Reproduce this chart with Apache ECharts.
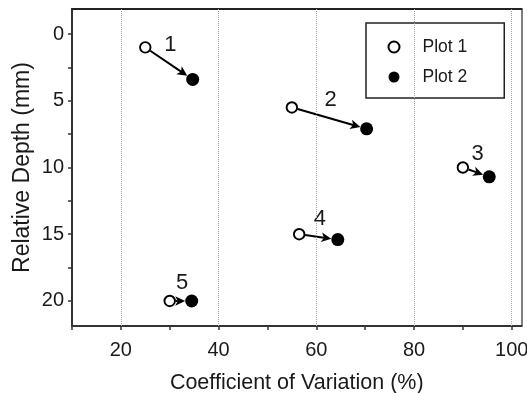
<!DOCTYPE html>
<html>
<head>
<meta charset="utf-8">
<script src="https://cdn.jsdelivr.net/npm/echarts@6/dist/echarts.min.js"></script>
<style>
  html, body { margin: 0; padding: 0; background: #fff; }
  #chart { width: 527px; height: 393px; }
</style>
</head>
<body>
<div id="chart"></div>
<script>
// Site numbers written next to each pair of measurements
const siteLabels = ['1', '2', '3', '4', '5'];

// Plot 1 (open circles): coefficient of variation (%) and relative depth (mm)
const plot1CV = [25, 55, 90, 56.5, 30];
const plot1Depth = [1, 5.5, 10, 15, 20];

// Plot 2 (filled circles)
const plot2CV = [34.7, 70.3, 95.4, 64.4, 34.5];
const plot2Depth = [3.4, 7.1, 10.7, 15.4, 20];

// Axis ticks and labels
const xLabelValues = [20, 40, 60, 80, 100];
const xTickValues = [10, 20, 30, 40, 50, 60, 70, 80, 90, 100];
const yLabelValues = [0, 5, 10, 15, 20];
const yTickValues = [0, 2.5, 5, 7.5, 10, 12.5, 15, 17.5, 20];

const FONT = '"Liberation Sans", Arial, Helvetica, sans-serif';
const INK = '#1a1a1a';

const plot1Data = plot1CV.map((v, i) => [v, plot1Depth[i]]);
const plot2Data = plot2CV.map((v, i) => [v, plot2Depth[i]]);
const arrowData = plot1CV.map((v, i) => [v, plot1Depth[i], plot2CV[i], plot2Depth[i]]);

const OPEN_R = 6;
const FILLED_R = 6.5;

// Arrow from each Plot 1 point to its Plot 2 point, with the site number above it
function renderArrow(params, api) {
  const a = api.coord([api.value(0), api.value(1)]);
  const b = api.coord([api.value(2), api.value(3)]);
  const dx = b[0] - a[0], dy = b[1] - a[1];
  const len = Math.hypot(dx, dy) || 1;
  const ux = dx / len, uy = dy / len;
  const px = -uy, py = ux;
  const start = [a[0] + ux * OPEN_R, a[1] + uy * OPEN_R];
  const tip = [b[0] - ux * FILLED_R, b[1] - uy * FILLED_R];
  const headLen = 10, headHalf = 4.8, notch = 2.5;
  const base = [tip[0] - ux * headLen, tip[1] - uy * headLen];
  const inner = [base[0] + ux * notch, base[1] + uy * notch];
  return {
    type: 'group',
    children: [
      {
        type: 'line',
        shape: { x1: start[0], y1: start[1], x2: inner[0], y2: inner[1] },
        style: { stroke: '#000', lineWidth: 2 }
      },
      {
        type: 'polygon',
        shape: {
          points: [
            tip,
            [base[0] + px * headHalf, base[1] + py * headHalf],
            inner,
            [base[0] - px * headHalf, base[1] - py * headHalf]
          ]
        },
        style: { fill: '#000' }
      },
      {
        type: 'text',
        x: (a[0] + b[0]) / 2 + 1.5,
        y: (a[1] + b[1]) / 2 - 18,
        style: {
          text: siteLabels[params.dataIndex],
          fontSize: 22,
          fontFamily: FONT,
          fill: INK,
          align: 'center',
          verticalAlign: 'middle'
        }
      }
    ]
  };
}

const chart = echarts.init(document.getElementById('chart'), null, { renderer: 'canvas' });

chart.setOption({
  animation: false,
  backgroundColor: '#fff',
  grid: { left: 72, right: 5.5, top: 9, bottom: 67, containLabel: false, outerBoundsMode: 'none' },
  legend: {
    data: ['Plot 1', 'Plot 2'],
    orient: 'vertical',
    left: 366,
    top: 23,
    icon: 'circle',
    itemWidth: 11,
    itemHeight: 11,
    itemGap: 12,
    padding: [15, 37, 12, 21.5],
    borderColor: '#222',
    borderWidth: 1.5,
    backgroundColor: '#fff',
    textStyle: {
      fontFamily: FONT,
      fontSize: 17.5,
      color: INK,
      lineHeight: 18,
      padding: [0, 0, 0, 18]
    }
  },
  xAxis: [
    {
      type: 'value',
      min: 10,
      max: 102,
      name: 'Coefficient of Variation (%)',
      nameLocation: 'middle',
      nameGap: 46,
      nameMoveOverlap: false,
      nameTextStyle: { fontFamily: FONT, fontSize: 21.5, color: INK },
      axisLine: { show: true, onZero: false, lineStyle: { color: '#333', width: 2 } },
      axisTick: {
        show: true,
        length: 4,
        customValues: xTickValues,
        lineStyle: { color: '#333', width: 1.5 }
      },
      axisLabel: {
        customValues: xLabelValues,
        margin: 14,
        fontFamily: FONT,
        fontSize: 20,
        color: INK
      },
      splitLine: { show: false }
    },
    {
      type: 'value',
      position: 'top',
      min: 10,
      max: 102,
      axisLine: { show: true, onZero: false, lineStyle: { color: '#222', width: 2 } },
      axisTick: { show: false },
      axisLabel: { show: false },
      splitLine: { show: false }
    }
  ],
  yAxis: [
    {
      type: 'value',
      inverse: true,
      min: -1.875,
      max: 21.875,
      name: 'Relative Depth (mm)',
      nameLocation: 'middle',
      nameGap: 38,
      nameMoveOverlap: false,
      nameRotate: 90,
      nameTextStyle: { fontFamily: FONT, fontSize: 23, color: INK },
      axisLine: { show: true, onZero: false, lineStyle: { color: '#333', width: 2 } },
      axisTick: {
        show: true,
        length: 4,
        customValues: yTickValues,
        lineStyle: { color: '#333', width: 1.5 }
      },
      axisLabel: {
        customValues: yLabelValues,
        margin: 8,
        fontFamily: FONT,
        fontSize: 20,
        color: INK
      },
      splitLine: { show: false }
    },
    {
      type: 'value',
      position: 'right',
      inverse: true,
      min: -1.875,
      max: 21.875,
      axisLine: { show: true, onZero: false, lineStyle: { color: '#555', width: 1.5 } },
      axisTick: { show: false },
      axisLabel: { show: false },
      splitLine: { show: false }
    }
  ],
  series: [
    {
      name: 'arrows',
      type: 'custom',
      renderItem: renderArrow,
      data: arrowData,
      encode: { x: [0, 2], y: [1, 3] },
      silent: true,
      z: 3,
      markLine: {
        silent: true,
        symbol: 'none',
        label: { show: false },
        lineStyle: { color: '#a0a0a0', type: 'dotted', width: 1 },
        data: xLabelValues.map(v => ({ xAxis: v }))
      }
    },
    {
      name: 'Plot 1',
      type: 'scatter',
      data: plot1Data,
      symbol: 'circle',
      symbolSize: 10.5,
      z: 4,
      itemStyle: { color: '#fff', borderColor: '#000', borderWidth: 1.9, opacity: 1 }
    },
    {
      name: 'Plot 2',
      type: 'scatter',
      data: plot2Data,
      symbol: 'circle',
      symbolSize: 13,
      z: 4,
      itemStyle: { color: '#000', opacity: 1 }
    }
  ]
});
</script>
</body>
</html>
